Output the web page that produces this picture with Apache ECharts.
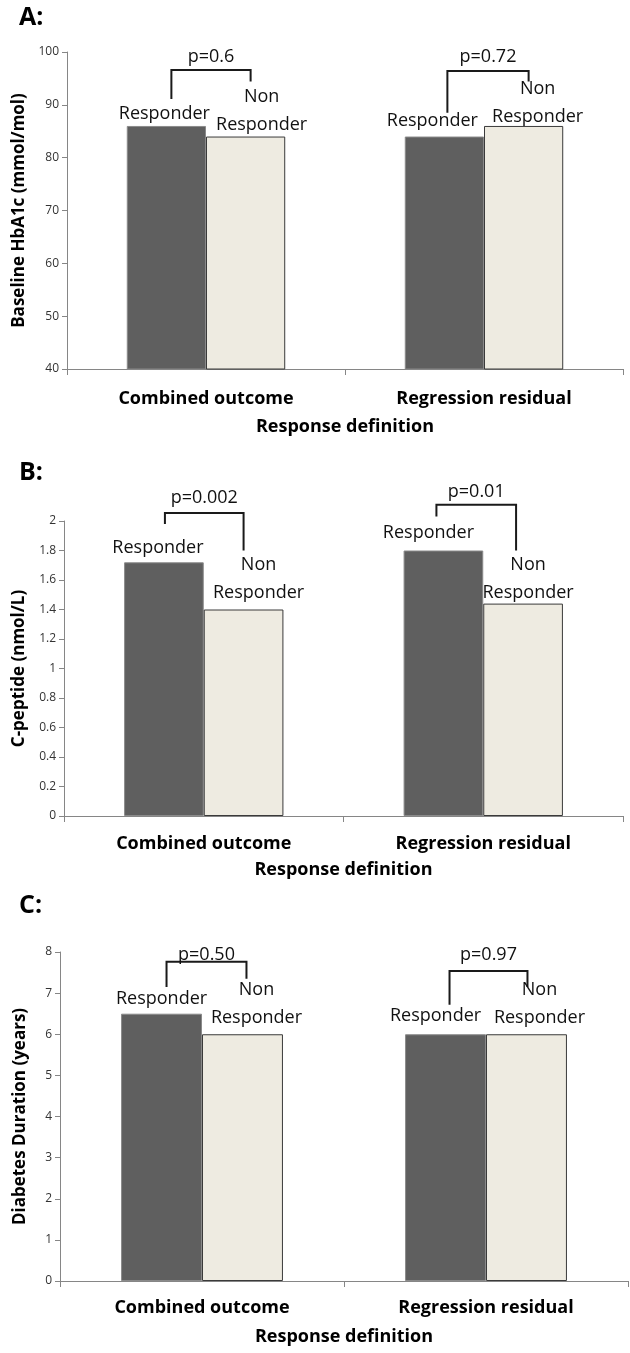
<!DOCTYPE html>
<html>
<head>
<meta charset="utf-8">
<script src="https://cdn.jsdelivr.net/npm/echarts@6/dist/echarts.min.js"></script>
<style>
html,body{margin:0;padding:0;background:#fff;}
#chart{width:630px;height:1353px;}
</style>
</head>
<body>
<div id="chart"></div>
<script>
// ---------- data ----------
const categories = ['Combined outcome', 'Regression residual'];
const xAxisTitle = 'Response definition';
const panelTitles = ['A:', 'B:', 'C:'];
const yTitles = ['Baseline HbA1c (mmol/mol)', 'C-peptide (nmol/L)', 'Diabetes Duration (years)'];

const hba1cResponder = [86, 84];
const hba1cNonResponder = [84, 86];
const cpepResponder = [1.72, 1.80];
const cpepNonResponder = [1.40, 1.44];
const durationResponder = [6.5, 6.0];
const durationNonResponder = [6.0, 6.0];

const pA = ['p=0.6', 'p=0.72'];
const pB = ['p=0.002', 'p=0.01'];
const pC = ['p=0.50', 'p=0.97'];

const yMinA = 40, yMaxA = 100, yStepA = 10;
const yMinB = 0, yMaxB = 2, yStepB = 0.2;
const yMinC = 0, yMaxC = 8, yStepC = 1;

const responderLabel = 'Responder';
const nonResponderLabel = 'Non\nResponder';

// ---------- layout (not data) ----------
// bracket: [leftBottom, top, rightBottom, pLabelY] in axis units; dx in px
const bracketA = [[91.1, 96.6, 94.4, 99.1], [88.5, 96.4, 94.4, 99.1]];
const bracketB = [[1.98, 2.054, 1.80, 2.16], [2.03, 2.11, 1.80, 2.20]];
const bracketC = [[7.15, 7.76, 7.35, 7.93], [6.72, 7.54, 7.15, 7.93]];
const bracketDxA = [[5, 5], [3, 5]];
const bracketDxB = [[1, 0], [-7, -7]];
const bracketDxC = [[5, 4], [4, 1]];
// label: [dx, gap from bar top to centre of last text line]
const labRA = [[-2, 12], [-12, 16]], labNA = [[16, 12], [14, 9]];
const labRB = [[-6, 14], [-15, 18]], labNB = [[15, 17], [5, 11]];
const labRC = [[0, 15], [-10, 18]], labNC = [[14, 16], [13, 16]];

const CAT_GAP = 0.43;
const LINE_H = 28;
const FONT = '"Open Sans", Lato, sans-serif';
const AXIS_COLOR = '#868686';

const grids = [
  {left: 67, top: 52, width: 556, height: 317},
  {left: 64, top: 521, width: 559, height: 295},
  {left: 60, top: 952, width: 568, height: 329}
];
const yNameGaps = [36, 36, 31];
const labelMargins = [21, 19, 18];
const xNameGaps = [49, 45, 47];
const titleTops = [0, 455, 888];

function barItems(values, lay) {
  return values.map((v, i) => ({
    value: v,
    label: {offset: [lay[i][0], LINE_H / 2 - lay[i][1]]}
  }));
}

function makeBars(gi, resp, non, labR, labN) {
  return [
    {
      type: 'bar', xAxisIndex: gi, yAxisIndex: gi,
      data: barItems(resp, labR),
      barGap: '0%', barCategoryGap: (CAT_GAP * 100) + '%',
      itemStyle: {color: '#5f5f5f', borderColor: '#8a8a8a', borderWidth: 1},
      label: {show: true, position: 'top', distance: 0, formatter: responderLabel,
              fontFamily: FONT, fontSize: 18, color: '#111', lineHeight: LINE_H},
      animation: false, silent: true
    },
    {
      type: 'bar', xAxisIndex: gi, yAxisIndex: gi,
      data: barItems(non, labN),
      barGap: '0%', barCategoryGap: (CAT_GAP * 100) + '%',
      itemStyle: {color: '#eeebe1', borderColor: '#3a3a3a', borderWidth: 1},
      label: {show: true, position: 'top', distance: 0, formatter: nonResponderLabel,
              fontFamily: FONT, fontSize: 18, color: '#111', lineHeight: LINE_H, align: 'center'},
      animation: false, silent: true
    }
  ];
}

function makeBracket(gi, br, dx, pTexts) {
  return {
    type: 'custom', xAxisIndex: gi, yAxisIndex: gi, clip: false, silent: true, animation: false,
    data: br.map((b, i) => [i, b[0], b[1], b[2], b[3], dx[i][0], dx[i][1]]),
    encode: {x: 0, y: 2},
    renderItem: function (params, api) {
      const i = api.value(0);
      const band = api.size([1, 0])[0];
      const bw = band * (1 - CAT_GAP) / 2;
      const cTop = api.coord([i, api.value(2)]);
      const yLB = api.coord([i, api.value(1)])[1];
      const yRB = api.coord([i, api.value(3)])[1];
      const yP = api.coord([i, api.value(4)])[1];
      const xL = cTop[0] - bw / 2 + api.value(5);
      const xR = cTop[0] + bw / 2 + api.value(6);
      return {
        type: 'group',
        children: [
          {type: 'polyline', shape: {points: [[xL, yLB], [xL, cTop[1]], [xR, cTop[1]], [xR, yRB]]},
           style: {stroke: '#1a1a1a', lineWidth: 2, fill: null}},
          {type: 'text', x: (xL + xR) / 2, y: yP,
           style: {text: pTexts[params.dataIndex], fontFamily: FONT, fontSize: 18, fill: '#111',
                   align: 'center', verticalAlign: 'middle'}}
        ]
      };
    }
  };
}

const yRanges = [[yMinA, yMaxA, yStepA], [yMinB, yMaxB, yStepB], [yMinC, yMaxC, yStepC]];

const option = {
  backgroundColor: '#fff',
  animation: false,
  title: panelTitles.map((t, i) => ({
    text: t, left: 14, top: titleTops[i],
    textStyle: {fontFamily: FONT, fontWeight: 'bold', fontSize: 25, color: '#000'}
  })),
  grid: grids,
  xAxis: grids.map((g, i) => ({
    type: 'category', gridIndex: i, data: categories,
    name: xAxisTitle, nameLocation: 'middle', nameGap: xNameGaps[i],
    nameTextStyle: {fontFamily: FONT, fontWeight: 'bold', fontSize: 18, color: '#000'},
    axisLine: {lineStyle: {color: AXIS_COLOR, width: 1}},
    axisTick: {show: true, length: 6, lineStyle: {color: AXIS_COLOR}},
    axisLabel: {fontFamily: FONT, fontWeight: 'bold', fontSize: 18, color: '#000', margin: labelMargins[i]},
    splitLine: {show: false}
  })),
  yAxis: grids.map((g, i) => ({
    type: 'value', gridIndex: i,
    min: yRanges[i][0], max: yRanges[i][1], interval: yRanges[i][2],
    name: yTitles[i], nameLocation: 'middle', nameGap: yNameGaps[i], nameRotate: 90,
    nameTextStyle: {fontFamily: FONT, fontWeight: 'bold', fontSize: 17, color: '#000'},
    axisLine: {show: true, lineStyle: {color: AXIS_COLOR, width: 1}},
    axisTick: {show: true, length: 5, lineStyle: {color: AXIS_COLOR}},
    axisLabel: {fontFamily: FONT, fontSize: 12, color: '#333', margin: 8},
    splitLine: {show: false}
  })),
  series: [
    ...makeBars(0, hba1cResponder, hba1cNonResponder, labRA, labNA),
    makeBracket(0, bracketA, bracketDxA, pA),
    ...makeBars(1, cpepResponder, cpepNonResponder, labRB, labNB),
    makeBracket(1, bracketB, bracketDxB, pB),
    ...makeBars(2, durationResponder, durationNonResponder, labRC, labNC),
    makeBracket(2, bracketC, bracketDxC, pC)
  ]
};

const chart = echarts.init(document.getElementById('chart'), null, {renderer: 'canvas'});
chart.setOption(option);
</script>
</body>
</html>
